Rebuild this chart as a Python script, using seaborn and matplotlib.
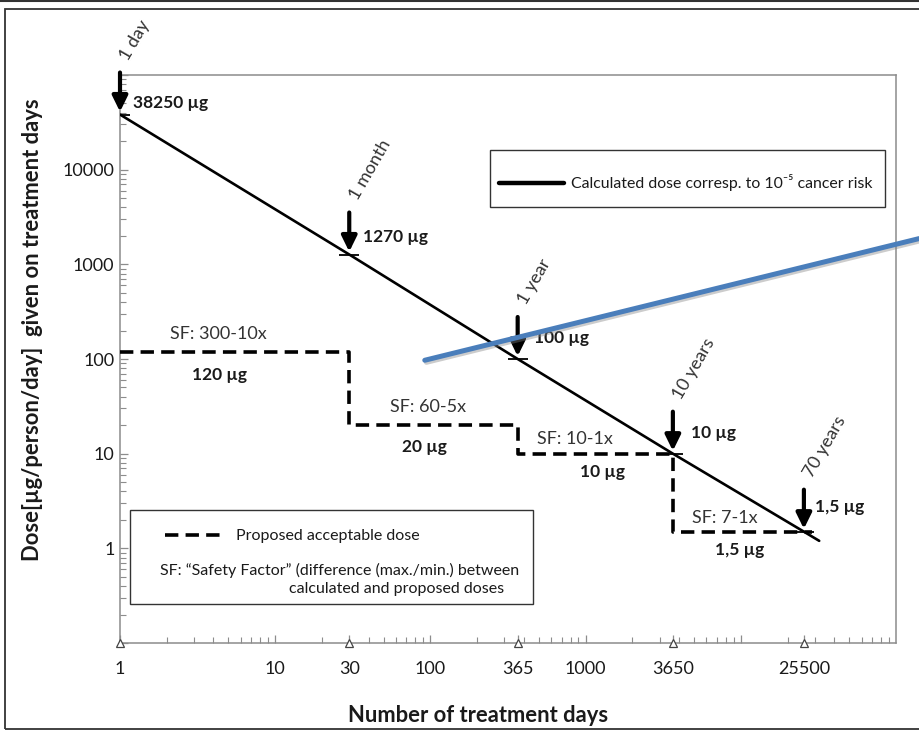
import numpy as np
import pandas as pd
import matplotlib
matplotlib.use("Agg")
import matplotlib.pyplot as plt
import matplotlib.patheffects as pe
import seaborn as sns
from matplotlib.patches import Rectangle
from matplotlib.lines import Line2D
from matplotlib.ticker import FixedLocator, FixedFormatter, LogLocator, NullFormatter

# milestones along the calculated line
milestone_days = [1, 30, 365, 3650, 25500]
milestone_labels = ["1 day", "1 month", "1 year", "10 years", "70 years"]
calc_dose = [38250, 1270, 100, 10, 1.5]
calc_dose_labels = ["38250 µg", "1270 µg", "100 µg", "10 µg", "1,5 µg"]

# calculated dose line (runs a bit past 70 years)
calc_line_days = [1, 30, 365, 3650, 25500, 32000]
calc_line_dose = [38250, 1270, 100, 10, 1.5, 1.2]

# proposed acceptable dose (step line)
step_days = [1, 30, 365, 3650, 28800]
step_dose = [120, 20, 10, 1.5, 1.5]
sf_labels = ["SF: 300-10x", "SF: 60-5x", "SF: 10-1x", "SF: 7-1x"]
step_dose_labels = ["120 µg", "20 µg", "10 µg", "1,5 µg"]

# blue line drawn over the chart
blue_days = [92, 140700]
blue_dose = [97, 1870]

xtick_values = [1, 10, 30, 100, 365, 1000, 3650, 10000, 25500]
xtick_labels = ["1", "10", "30", "100", "365", "1000", "3650", "", "25500"]
ytick_values = [0.1, 1, 10, 100, 1000, 10000, 100000]
ytick_labels = ["", "1", "10", "100", "1000", "10000", ""]

sns.set_style("white")
plt.rcParams['font.family'] = ['Lato', 'DejaVu Sans']

fig = plt.figure(figsize=(9.19, 7.31), dpi=100)
ax = fig.add_axes([120 / 919, 88 / 731, 776 / 919, 568 / 731])

calc = pd.DataFrame({"days": calc_line_days, "dose": calc_line_dose})
sns.lineplot(data=calc, x="days", y="dose", color="black", lw=1.9,
             estimator=None, sort=False, legend=False, ax=ax, zorder=3)

steps = pd.DataFrame({"days": step_days, "dose": step_dose})
sns.lineplot(data=steps, x="days", y="dose", color="black", lw=2.6,
             linestyle=(0, (3.7, 2.0)), drawstyle="steps-post",
             estimator=None, sort=False, legend=False, ax=ax, zorder=3)

sns.lineplot(x=blue_days, y=blue_dose, color="#4a7ebb", lw=3.6, clip_on=False,
             estimator=None, sort=False, legend=False, ax=ax, zorder=6,
             path_effects=[pe.SimpleLineShadow(offset=(1.2, -1.5), shadow_color="gray", alpha=0.4),
                           pe.Normal()])

# small caps at the milestone points
ax.plot(milestone_days, calc_dose, ls="none", marker="_", ms=14, mew=1.3,
        color="black", zorder=4)
# hollow triangles on the x axis
ax.plot(milestone_days, [0] * len(milestone_days), ls="none", marker="^", ms=6,
        mfc="white", mec="#444444", mew=0.9, clip_on=False, zorder=5,
        transform=ax.get_xaxis_transform())

ax.set_xscale("log")
ax.set_yscale("log")
ax.set_xlim(1, 1e5)
ax.set_ylim(0.1, 1e5)
ax.set_xlabel("")
ax.set_ylabel("")

ax.xaxis.set_major_locator(FixedLocator(xtick_values))
ax.xaxis.set_major_formatter(FixedFormatter(xtick_labels))
ax.xaxis.set_minor_locator(LogLocator(base=10, subs=np.arange(2, 10), numticks=50))
ax.xaxis.set_minor_formatter(NullFormatter())
ax.yaxis.set_major_locator(FixedLocator(ytick_values))
ax.yaxis.set_major_formatter(FixedFormatter(ytick_labels))
ax.yaxis.set_minor_locator(LogLocator(base=10, subs=np.arange(2, 10), numticks=50))
ax.yaxis.set_minor_formatter(NullFormatter())

ax.tick_params(which="both", direction="in", color="#8c8c8c", labelcolor="#1a1a1a")
ax.tick_params(which="major", length=6, width=0.9, labelsize=13)
ax.tick_params(which="minor", length=4, width=0.8)
ax.tick_params(axis="x", which="major", pad=13)
ax.tick_params(axis="y", which="major", pad=4)
ax.tick_params(left=True, bottom=True, which="both")
for s in ax.spines.values():
    s.set_color("#8c8c8c")
    s.set_linewidth(1.1)

# arrows, milestone names and calculated values
value_offsets = [(13, 12), (14, 18), (16, 21), (18, 21), (11, 25)]
for d, v, name, lab, off in zip(milestone_days, calc_dose, milestone_labels,
                                calc_dose_labels, value_offsets):
    ax.annotate("", xy=(d, v), xytext=(0, 42), textcoords="offset pixels",
                arrowprops=dict(arrowstyle="-|>,head_length=0.55,head_width=0.27",
                                color="black", lw=3, shrinkA=0, shrinkB=2,
                                mutation_scale=17), zorder=5)
    ax.annotate(name, xy=(d, v), xytext=(4, 56), textcoords="offset pixels",
                rotation=60, rotation_mode="anchor", ha="left", va="center",
                fontsize=13, color="#333333")
    ax.annotate(lab, xy=(d, v), xytext=off, textcoords="offset pixels",
                ha="left", va="center", fontsize=12.5, fontweight="bold",
                color="#1a1a1a")

# safety factor labels above, proposed doses below each step
sf_x = [4.3, 96, 855, 7900]
sf_dy = [18, 18, 15, 14]
dose_x = [4.4, 92, 1276, 9880]
dose_dy = [-23, -22, -18, -18]
for i in range(len(sf_labels)):
    ax.annotate(sf_labels[i], xy=(sf_x[i], step_dose[i]), xytext=(0, sf_dy[i]),
                textcoords="offset pixels", ha="center", va="center",
                fontsize=13, color="#333333")
    ax.annotate(step_dose_labels[i], xy=(dose_x[i], step_dose[i]), xytext=(0, dose_dy[i]),
                textcoords="offset pixels", ha="center", va="center",
                fontsize=12.5, fontweight="bold", color="#1a1a1a")

# legend boxes
ax.add_patch(Rectangle((0.477, 0.768), 0.509, 0.100, transform=ax.transAxes,
                       fill=False, ec="#333333", lw=1, zorder=2))
ax.add_patch(Rectangle((0.013, 0.069), 0.519, 0.165, transform=ax.transAxes,
                       fill=False, ec="#333333", lw=1, zorder=2))
leg1 = ax.legend(handles=[Line2D([], [], color="black", lw=3.2)],
                 labels=["Calculated dose corresp. to 10⁻⁵ cancer risk"],
                 loc="center left", bbox_to_anchor=(0.488, 0.810), frameon=False,
                 borderpad=0, borderaxespad=0, handlelength=4.1, handletextpad=0.45,
                 fontsize=11.4, labelcolor="#1a1a1a")
ax.add_artist(leg1)
ax.legend(handles=[Line2D([], [], color="black", lw=2.6, ls=(0, (3.7, 2.0)))],
          labels=["Proposed acceptable dose"],
          loc="center left", bbox_to_anchor=(0.058, 0.188), frameon=False,
          borderpad=0, borderaxespad=0, handlelength=3.6, handletextpad=0.85,
          fontsize=11.5, labelcolor="#1a1a1a")
ax.text(0.0515, 0.1285, "SF: \u201cSafety Factor\u201d (difference (max./min.) between",
        transform=ax.transAxes, ha="left", va="center", fontsize=11.5, color="#1a1a1a")
ax.text(0.495, 0.095, "calculated and proposed doses",
        transform=ax.transAxes, ha="right", va="center", fontsize=11.5, color="#1a1a1a")

# axis titles
fig.text(478 / 919, 1 - 715 / 731, "Number of treatment days", ha="center", va="center",
         fontsize=15.8, fontweight="bold", color="#1a1a1a")
fig.text(33 / 919, 1 - 330 / 731, "Dose[µg/person/day]  given on treatment days",
         ha="center", va="center", rotation=90, fontsize=15.8, fontweight="bold",
         color="#1a1a1a")

# page frame
fig.patches.append(Rectangle((5 / 919, 2 / 731), 1.0, 720 / 731, transform=fig.transFigure,
                             fill=False, ec="#333333", lw=1.3))
fig.lines.append(Line2D([0, 1], [730 / 731, 730 / 731], transform=fig.transFigure,
                        color="#333333", lw=1.5))

plt.savefig("out.png", dpi=100)
